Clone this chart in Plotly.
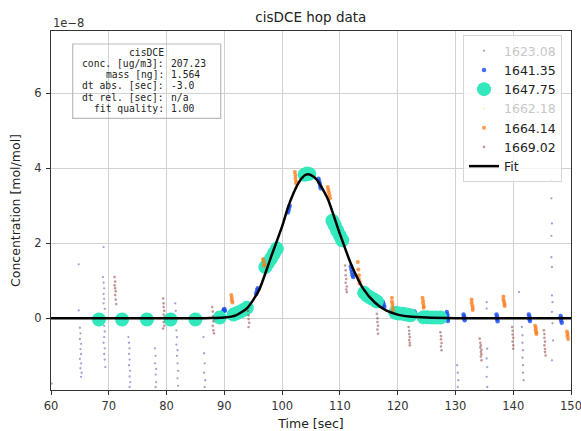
import plotly.graph_objects as go

# ---------------- data (concentration in units of 1e-8 mol/mol) ----------------
fit_t = [60, 86, 88, 90, 92, 94, 96, 98, 100, 101, 102, 103, 104, 104.5, 105, 106, 107, 108,
         110, 112, 114, 116, 118, 120, 122, 125, 130, 150]
fit_c = [0, 0, 0.01, 0.02, 0.08, 0.28, 0.75, 1.6, 2.45, 2.95, 3.35, 3.65, 3.82, 3.84, 3.82,
         3.7, 3.45, 3.15, 2.25, 1.42, 0.8, 0.43, 0.21, 0.1, 0.05, 0.02, 0.005, 0]

s1623_t = [60.1, 64.8, 64.8, 65.0, 65.1, 65.0, 65.2, 65.1, 65.2, 65.0, 65.2, 65.1, 65.3, 65.2,
           69.1, 69.0, 69.1, 69.2, 69.1, 69.2, 69.1, 69.3, 69.2, 69.3, 69.2, 69.1, 69.3, 69.2, 69.3, 69.4,
           73.4, 73.5, 73.6, 73.5, 73.6, 73.5, 73.7, 73.6, 73.7, 73.6,
           78.0, 78.1, 78.0, 78.2, 78.1, 78.2, 78.1,
           81.5, 81.6, 81.7, 81.8, 81.7, 81.9, 81.8, 81.9, 82.0, 81.9, 82.0,
           86.4, 86.5, 86.6, 86.5, 86.7, 86.6,
           130.3, 130.4, 130.5, 130.4,
           135.4, 135.4, 135.5, 135.4, 135.5, 135.4, 135.5,
           141.0, 141.5, 141.6, 141.6, 141.7, 141.6, 141.7, 141.7, 141.8,
           146.6, 146.6, 146.7, 146.6, 146.6, 146.7, 146.7, 146.8, 146.7, 146.8, 146.9, 146.7]
s1623_c = [-1.74, 1.44, 0.21, -0.25, -0.4, -0.55, -0.68, -0.82, -0.95, -1.08, -1.2, -1.33, -1.45, -1.56,
           1.9, 1.1, 0.95, 0.8, 0.65, 0.52, 0.4, 0.25, -0.2, -0.35, -0.5, -0.65, -0.8, -0.95, -1.1, -1.3,
           -0.5, -0.65, -0.8, -0.95, -1.1, -1.25, -1.4, -1.55, -1.7, -1.83,
           -0.8, -1.0, -1.2, -1.35, -1.5, -1.7, -1.83,
           0.4, 0.2, -0.32, -0.5, -0.7, -0.85, -1.0, -1.2, -1.4, -1.6, -1.8,
           -0.5, -0.93, -1.2, -1.45, -1.65, -1.83,
           -1.25, -1.45, -1.65, -1.83,
           0.43, 0.26, -0.81, -1.07, -1.3, -1.56, -1.83,
           0.7, -0.23, -0.45, -0.65, -0.85, -1.05, -1.25, -1.45, -1.65,
           3.68, 3.2, 2.53, 2.2, 1.63, 1.37, 0.61, 0.43, 0.17, -0.13, -0.59, -1.12]

s1641_t = [89.7, 89.8, 89.9, 90.0, 90.1,
           95.5, 95.6, 95.7, 95.8,
           101.0, 101.1, 101.2, 101.3,
           106.3, 106.4, 106.5, 106.6, 106.7,
           111.9, 112.0, 112.1, 112.2, 112.3,
           117.4, 117.5, 117.6, 117.7,
           122.9, 123.0, 123.1, 123.2,
           128.5, 128.6, 128.6, 128.7, 128.7,
           131.4, 131.5, 131.5, 131.6,
           137.1, 137.2, 137.2, 137.3,
           142.7, 142.8, 142.8, 142.9,
           148.2, 148.3, 148.3, 148.4]
s1641_c = [0.14, 0.18, 0.22, 0.25, 0.2,
           0.65, 0.7, 0.76, 0.8,
           2.82, 2.88, 2.95, 3.0,
           3.72, 3.66, 3.6, 3.53, 3.47,
           1.38, 1.3, 1.22, 1.15, 1.1,
           0.45, 0.4, 0.35, 0.3,
           0.18, 0.14, 0.1, 0.08,
           0.17, 0.1, 0.04, -0.02, -0.07,
           0.1, 0.05, 0.0, -0.05,
           0.1, 0.04, -0.02, -0.08,
           0.1, 0.04, -0.02, -0.07,
           0.06, 0.0, -0.06, -0.12]

s1647_t = [68.3, 72.3, 76.6, 80.7, 85.0, 89.2,
           91.6, 92.2, 92.8, 93.4, 93.9,
           97.1, 97.6, 98.1, 98.6, 99.1,
           103.9, 104.3, 104.7,
           108.7, 109.1, 109.5, 110.0, 110.4,
           114.2, 114.7, 115.3, 115.9, 116.4,
           119.6, 120.2, 120.9, 121.5, 122.2,
           124.5, 125.2, 126.0, 126.7, 127.4]
s1647_c = [-0.03, -0.03, -0.03, -0.03, -0.03, 0.02,
           0.1, 0.14, 0.18, 0.23, 0.28,
           1.37, 1.48, 1.6, 1.73, 1.86,
           3.83, 3.86, 3.85,
           2.6, 2.48, 2.35, 2.2, 2.08,
           0.68, 0.61, 0.55, 0.5, 0.45,
           0.15, 0.13, 0.12, 0.1, 0.08,
           0.03, 0.03, 0.02, 0.02, 0.02]

# barely visible series (hidden under the others)
s1662_t = [98.4, 104.2, 109.8, 115.6]
s1662_c = [1.65, 3.85, 2.3, 0.52]

s1664_t = [91.2, 91.3, 91.3, 91.4,
           96.7, 96.8, 96.9, 96.9,
           102.2, 102.3, 102.3, 102.4, 102.4,
           107.9, 108.0, 108.1, 108.2, 108.3,
           113.1, 113.2, 113.3, 113.3, 113.4, 113.4,
           119.0, 119.0, 119.1, 119.1, 119.2,
           124.3, 124.4, 124.4, 124.5, 124.5,
           132.8, 132.8, 132.9, 133.0, 133.0,
           138.3, 138.3, 138.4, 138.5, 138.5,
           143.8, 143.9, 143.9, 144.0, 144.0,
           149.3, 149.4, 149.4, 149.5]
s1664_c = [0.62, 0.55, 0.48, 0.42,
           1.58, 1.52, 1.45, 1.4,
           3.9, 3.82, 3.74, 3.66, 3.6,
           3.5, 3.43, 3.36, 3.28, 3.2,
           1.5, 1.3, 1.15, 1.05, 0.98, 0.93,
           0.55, 0.45, 0.38, 0.3, 0.22,
           0.55, 0.47, 0.4, 0.33, 0.28,
           0.5, 0.42, 0.35, 0.28, 0.22,
           0.58, 0.5, 0.44, 0.38, 0.33,
           -0.2, -0.26, -0.32, -0.38, -0.42,
           -0.35, -0.42, -0.48, -0.55]

s1669_t = [71.0, 71.1, 71.0, 71.1, 71.2, 71.1, 71.2, 71.3,
           79.4, 79.5, 79.5, 79.6, 79.5, 79.6, 79.5, 79.6, 79.4,
           87.9, 88.0, 88.0, 88.1, 88.0, 88.1, 88.2,
           94.1, 94.2, 94.2, 94.3, 94.2,
           110.9, 111.0, 111.0, 111.1, 111.0, 111.2, 111.1, 111.2,
           116.4, 116.5, 116.5, 116.6, 116.5, 116.6,
           121.9, 122.0, 122.0, 122.1, 122.0, 122.1, 122.1,
           127.4, 127.5, 127.5, 127.6, 127.5, 127.6,
           134.2, 134.3, 134.4, 134.3, 134.5, 134.4, 134.5, 134.4, 134.5,
           139.8, 139.9, 139.9, 140.0, 139.9, 140.0, 140.0,
           145.3, 145.4, 145.4, 145.5, 145.4, 145.5, 145.5, 145.6]
s1669_c = [1.1, 0.98, 0.88, 0.8, 0.72, 0.62, 0.5, 0.38,
           0.53, 0.4, 0.3, 0.2, 0.1, 0.02, -0.1, -0.2, -0.27,
           0.3, 0.18, 0.05, -0.08, -0.2, -0.32, -0.4,
           0.2, 0.08, -0.02, -0.12, -0.23,
           1.41, 1.28, 1.15, 1.05, 0.95, 0.85, 0.77, 0.7,
           0.12, 0.0, -0.1, -0.2, -0.3, -0.41,
           -0.23, -0.33, -0.42, -0.5, -0.58, -0.65, -0.72,
           -0.37, -0.47, -0.56, -0.66, -0.75, -0.85,
           -0.54, -0.65, -0.72, -0.78, -0.84, -0.9, -0.96, -1.02, -1.12,
           -0.23, -0.33, -0.43, -0.52, -0.62, -0.72, -0.81,
           -0.32, -0.42, -0.52, -0.62, -0.72, -0.82, -0.9, -0.99]

x_ticks = [60, 70, 80, 90, 100, 110, 120, 130, 140, 150]
y_ticks = [0, 2, 4, 6]
y_ticktext = ["0", "2", "4", "6"]

info_labels = ["cisDCE", "conc. [ug/m3]:", "mass [ng]:", "dt abs. [sec]:", "dt rel. [sec]:", "fit quality:"]
info_values = ["", "207.23", "1.564", "-3.0", "n/a", "1.00"]

# ---------------- figure ----------------
FONT = "DejaVu Sans"
W, H = 581, 431
L, R, T, B = 51, 10, 31, 41
PW, PH = W - L - R, H - T - B

def px_x(px):
    return (px - L) / PW

def px_y(py):
    return (H - B - py) / PH

fig = go.Figure()

fig.add_trace(go.Scatter(x=s1623_t, y=s1623_c, mode="markers",
                         name='<span style="color:#c8c8c8">1623.08</span>',
                         marker=dict(size=2.3, color="rgba(50,50,165,0.45)")))
fig.add_trace(go.Scatter(x=s1641_t, y=s1641_c, mode="markers", name="1641.35",
                         marker=dict(size=4.5, color="rgba(20,75,240,0.8)")))
fig.add_trace(go.Scatter(x=s1647_t, y=s1647_c, mode="markers", name="1647.75",
                         marker=dict(size=14, color="#33e8bd")))
fig.add_trace(go.Scatter(x=s1662_t, y=s1662_c, mode="markers",
                         name='<span style="color:#c8c8c8">1662.18</span>',
                         marker=dict(size=2.5, color="rgba(235,225,90,0.35)")))
fig.add_trace(go.Scatter(x=s1664_t, y=s1664_c, mode="markers", name="1664.14",
                         marker=dict(size=4, color="rgba(255,120,20,0.75)")))
fig.add_trace(go.Scatter(x=s1669_t, y=s1669_c, mode="markers", name="1669.02",
                         marker=dict(size=2.6, color="rgba(140,45,45,0.5)")))
fig.add_trace(go.Scatter(x=fit_t, y=fit_c, mode="lines", name="Fit",
                         line=dict(color="black", width=2.5, shape="spline", smoothing=0.6)))

axis_common = dict(showgrid=True, gridcolor="#d2d2d2", gridwidth=1.4,
                   showline=True, mirror=True, linecolor="#333333", linewidth=1,
                   ticks="outside", ticklen=4, tickcolor="#333333", tickwidth=1,
                   tickfont=dict(family=FONT, size=11.5, color="#333333"), zeroline=False,
                   automargin=False, ticklabeloverflow="allow")

fig.update_layout(
    width=W, height=H,
    margin=dict(l=L, r=R, t=T, b=B),
    paper_bgcolor="white", plot_bgcolor="white",
    font=dict(family=FONT, color="#222222"),
    title=dict(text="cisDCE hop data", x=0.535, xanchor="center", y=1 - 17 / H, yanchor="middle",
               yref="container", font=dict(family=FONT, size=13.5, color="#222222")),
    xaxis=dict(range=[60, 150], tickvals=x_ticks, ticklabelstandoff=1,
               title=dict(text="Time [sec]", font=dict(family=FONT, size=12.5, color="#222222"), standoff=9),
               **axis_common),
    yaxis=dict(range=[-1.91, 7.66], tickvals=y_ticks, ticktext=y_ticktext, ticklabelstandoff=2,
               title=dict(text="Concentration [mol/mol]", font=dict(family=FONT, size=12.5, color="#222222"), standoff=10),
               **axis_common),
    legend=dict(x=px_x(463), y=px_y(35), xanchor="left", yanchor="top",
                bgcolor="rgba(255,255,255,0.8)", bordercolor="#d5d5d5", borderwidth=1,
                font=dict(family=FONT, size=12.5, color="#222222")),
    showlegend=True,
)

# exponent label
fig.add_annotation(text="1e\u22128", xref="paper", yref="paper", x=0.0, y=px_y(23),
                   xanchor="left", yanchor="middle", showarrow=False,
                   font=dict(family=FONT, size=11.5, color="#333333"))

# info box
fig.add_shape(type="rect", xref="paper", yref="paper",
              x0=px_x(72.7), x1=px_x(220.7), y0=px_y(118.3), y1=px_y(44),
              line=dict(color="#bbbbbb", width=1.2), fillcolor="rgba(0,0,0,0)")
line_py = [52.0, 63.3, 74.6, 85.9, 97.2, 108.5]
for lab, val, py in zip(info_labels, info_values, line_py):
    fig.add_annotation(text=lab, xref="paper", yref="paper", x=px_x(164.5), y=px_y(py),
                       xanchor="right", yanchor="middle", showarrow=False, borderpad=0,
                       font=dict(family="DejaVu Sans Mono", size=9.7, color="#222222"))
    if val:
        fig.add_annotation(text=val, xref="paper", yref="paper", x=px_x(169.5), y=px_y(py),
                           xanchor="left", yanchor="middle", showarrow=False, borderpad=0,
                           font=dict(family="DejaVu Sans Mono", size=9.7, color="#222222"))

fig.write_html("out.html")
